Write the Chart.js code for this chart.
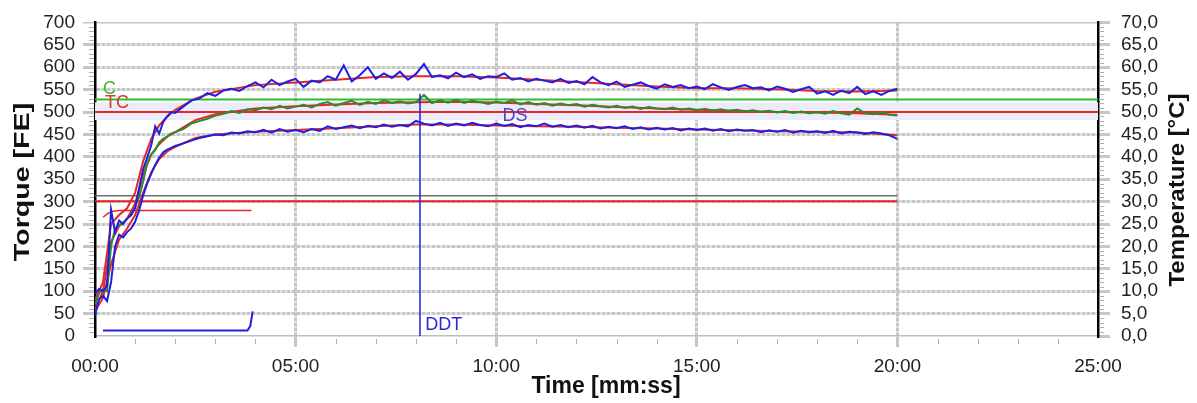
<!DOCTYPE html>
<html>
<head>
<title>Torque / Temperature</title>
<script src="https://cdn.jsdelivr.net/npm/chart.js"></script>
<style>
body { margin:0; background:#fff; }
</style>
</head>
<body>
<canvas id="myChart" width="1197" height="403"></canvas>
<script>
// time in minutes
var times = [0,0.1,0.2,0.3,0.4,0.5,0.6,0.7,0.8,0.9,1,1.1,1.2,1.3,1.4,1.5,1.6,1.7,1.8,1.9,2,
  2.2,2.4,2.6,2.8,3,3.2,3.4,3.6,3.8,4,
  4.2,4.4,4.6,4.8,5,5.2,5.4,5.6,5.8,6,
  6.2,6.4,6.6,6.8,7,7.2,7.4,7.6,7.8,8,
  8.2,8.4,8.6,8.8,9,9.2,9.4,9.6,9.8,10,
  10.2,10.4,10.6,10.8,11,11.2,11.4,11.6,11.8,12,
  12.2,12.4,12.6,12.8,13,13.2,13.4,13.6,13.8,14,
  14.2,14.4,14.6,14.8,15,15.2,15.4,15.6,15.8,16,
  16.2,16.4,16.6,16.8,17,17.2,17.4,17.6,17.8,18,
  18.2,18.4,18.6,18.8,19,19.2,19.4,19.6,19.8,20];

var upperTorque = [95,105,100,112,282,232,258,250,262,270,285,330,372,398,425,468,452,478,490,500,498,
  512,526,530,542,536,548,552,547,558,566,
  555,572,560,568,574,556,570,566,580,572,
  604,568,582,600,574,586,576,590,572,585,
  607,578,582,575,588,578,584,574,580,578,
  586,572,576,568,574,570,566,574,565,569,
  562,578,566,560,568,556,561,566,558,552,
  562,556,560,553,557,551,562,555,549,556,
  560,553,555,548,557,552,545,551,556,541,
  546,538,548,542,556,540,546,538,547,552];

var meanTorque = [70,95,105,100,200,240,248,252,262,270,290,310,345,385,405,415,432,440,445,452,455,
  462,474,480,485,492,496,502,498,506,504,
  510,506,514,508,512,516,510,518,522,514,
  520,525,516,523,518,526,520,524,519,522,
  538,520,526,521,527,520,525,522,518,523,
  520,526,517,522,516,520,514,519,515,518,
  512,516,513,510,514,509,512,507,511,508,
  506,510,505,508,504,507,503,506,502,505,
  501,504,500,503,499,502,498,501,497,500,
  496,502,497,494,508,497,495,499,494,492];

var lowerTorque = [46,82,90,78,120,200,226,220,232,240,255,280,314,340,362,382,398,410,416,420,424,
  430,436,442,446,450,448,454,452,457,455,
  460,454,462,456,460,455,462,458,468,462,
  466,470,464,469,466,472,467,471,468,480,
  474,470,476,469,474,470,476,471,468,474,
  469,473,466,471,468,474,467,471,466,470,
  465,469,463,467,464,468,462,466,461,465,
  461,464,459,463,460,463,458,462,457,461,
  458,460,455,459,456,460,454,458,455,457,
  453,458,452,456,454,451,455,452,448,440];

// smoothed (red) curves
var smoothTimes = [0,0.2,0.4,0.6,0.8,1,1.2,1.4,1.6,1.8,2,2.5,3,4,5,6,7,8,9,10,11,12,13,14,15,16,17,18,19,20];
var upperSmooth = [80,120,250,270,285,320,390,440,470,490,505,530,545,560,566,572,578,580,580,577,572,567,562,557,553,553,551,547,546,548];
var meanSmooth  = [60,100,210,245,262,295,360,405,428,445,455,482,495,508,513,517,520,522,523,521,518,515,511,508,505,503,500,499,497,494];
var lowerSmooth = [55,85,160,215,240,270,320,365,395,412,422,442,450,456,460,464,468,472,472,470,468,467,465,463,461,459,457,456,454,448];

var tempTimes = [0.2,0.3,0.4,0.6,3.9];
var tempValues = [265,272,278,280,280];
var pulseTimes = [0.2,3.8,3.87,3.93];
var pulseValues = [12,12,22,55];

var limitC = 528;
var limitTC = 500;
var tolBand = [482, 522];
var grayLevel = 313;
var redLevel = 301;
var ddtTime = 8.1;
var ddtTop = 541;
var endTime = 20;

var tickFont = { family: 'Liberation Sans, Arial, sans-serif', size: 19 };
var gridGray = '#c6c6c6';

function pts(xs, ys) {
  return xs.map(function (x, i) { return { x: x, y: ys[i] }; });
}
function hline(v, x0, x1) { return [{ x: x0, y: v }, { x: x1, y: v }]; }
function mmss(v) { return (v < 10 ? '0' : '') + v + ':00'; }

function line(data, color, order, width) {
  return { data: data, borderColor: color, borderWidth: width || 2, pointRadius: 0, fill: false, order: order };
}

var datasets = [
  line(pts(times, upperTorque), '#1f1fe0', 1),
  line(pts(times, lowerTorque), '#1f1fe0', 2),
  line(pts(times, meanTorque), '#2e8b2e', 3),
  line(pts(smoothTimes, upperSmooth), '#e8262a', 4),
  line(pts(smoothTimes, meanSmooth), '#e8262a', 5),
  line(pts(smoothTimes, lowerSmooth), '#e8262a', 6),
  line([{ x: ddtTime, y: 0 }, { x: ddtTime, y: ddtTop }], '#1f1fe0', 0, 1.5),
  line(pts(pulseTimes, pulseValues), '#1f1fe0', 7),
  line(pts(tempTimes, tempValues), '#e8262a', 8, 1.5),
  line(hline(limitC, 0, 25), '#2ebd2e', 9),
  line(hline(limitTC, 0, 25), '#e8262a', 10),
  line(hline(grayLevel, 0, endTime), '#6e6e6e', 11, 1.5),
  line(hline(redLevel, 0, endTime), '#e8262a', 12),
  { data: hline(tolBand[1], 0, 25), borderWidth: 0, pointRadius: 0, fill: '+1', backgroundColor: '#ebebf9', order: 20 },
  { data: hline(tolBand[0], 0, 25), borderWidth: 0, pointRadius: 0, fill: false, order: 21 }
];

// labels C / TC / DS / DDT and axis titles
var annot = {
  id: 'annot',
  afterDraw: function (chart) {
    var c = chart.ctx, x = chart.scales.x, y = chart.scales.y;
    c.save();
    c.font = '18px Liberation Sans, Arial, sans-serif';
    c.textAlign = 'left';
    c.textBaseline = 'alphabetic';
    [['C', 0.2, 541, '#33bb33'], ['TC', 0.25, 508, '#dd3333'], ['DS', 10.16, 480, '#4444cc'], ['DDT', 8.23, 13, '#2a2ad0']]
      .forEach(function (l) {
        c.fillStyle = l[3];
        c.fillText(l[0], x.getPixelForValue(l[1]), y.getPixelForValue(l[2]));
      });
    c.fillStyle = '#111';
    c.textAlign = 'center';
    c.textBaseline = 'middle';
    c.font = 'bold 23px Liberation Sans, Arial, sans-serif';
    c.fillText('Time [mm:ss]', 606, 387);
    c.font = 'bold 22px Liberation Sans, Arial, sans-serif';
    c.save(); c.translate(23, 182); c.rotate(-Math.PI / 2); c.scale(1.3, 1);
    c.fillText('Torque [FE]', 0, 0); c.restore();
    c.save(); c.translate(1178, 190); c.rotate(-Math.PI / 2); c.scale(1.09, 1);
    c.fillText('Temperature [°C]', 0, 0); c.restore();
    c.restore();
  },
  beforeDatasetsDraw: function (chart) {
    // minor ticks
    var c = chart.ctx, x = chart.scales.x, y = chart.scales.y, a = chart.chartArea;
    c.save();
    c.strokeStyle = '#b0b0b0';
    c.lineWidth = 1;
    c.beginPath();
    for (var v = 10; v < 700; v += 10) {
      if (v % 50 === 0) continue;
      var py = Math.round(y.getPixelForValue(v)) + 0.5;
      c.moveTo(a.left - 6, py); c.lineTo(a.left - 1, py);
      c.moveTo(a.right + 1, py); c.lineTo(a.right + 6, py);
    }
    for (var m = 1; m < 25; m++) {
      if (m % 5 === 0) continue;
      var px = Math.round(x.getPixelForValue(m)) + 0.5;
      c.moveTo(px, a.bottom + 3); c.lineTo(px, a.bottom + 8);
    }
    c.stroke();
    c.restore();
  }
};

var ctx = document.getElementById('myChart').getContext('2d');
var chart = new Chart(ctx, {
  type: 'line',
  data: { datasets: datasets },
  plugins: [annot],
  options: {
    responsive: false,
    animation: false,
    layout: { padding: { top: 18, left: 0, right: 0, bottom: 0 } },
    plugins: { legend: { display: false }, tooltip: { enabled: false } },
    scales: {
      x: {
        type: 'linear', min: 0, max: 25,
        afterFit: function (s) { s.height = 67; },
        ticks: { stepSize: 5, autoSkip: false, font: tickFont, color: '#222', padding: 8, maxRotation: 0, callback: mmss },
        grid: {
          color: function (c) { return (c.tick && c.tick.value > 0 && c.tick.value < 25) ? gridGray : 'rgba(0,0,0,0)'; },
          lineWidth: 3,
          tickLength: 11
        },
        border: { display: true, color: '#bdbdbd', width: 1.5, dash: [4, 1] }
      },
      y: {
        position: 'left', min: 0, max: 700,
        afterFit: function (s) { s.width = 95; },
        ticks: { stepSize: 50, autoSkip: false, font: tickFont, color: '#222', padding: 8 },
        grid: {
          color: function (c) { return (c.tick && c.tick.value === 0) ? 'rgba(0,0,0,0)' : gridGray; },
          lineWidth: function (c) { return (c.tick && c.tick.value === 700) ? 1.5 : 3; },
          tickLength: 12
        },
        border: {
          color: '#000', width: 2.5,
          dash: function (c) { return (c.tick && c.tick.value === 700) ? [] : [4, 1]; }
        }
      },
      y2: {
        position: 'right', min: 0, max: 70,
        afterFit: function (s) { s.width = 99; },
        ticks: {
          stepSize: 5, autoSkip: false, font: tickFont, color: '#222', padding: 11,
          callback: function (v) { return v.toFixed(1).replace('.', ','); }
        },
        grid: { drawOnChartArea: false, color: gridGray, lineWidth: 3, tickLength: 12 },
        border: { color: '#000', width: 2.5 }
      }
    }
  }
});
</script>
</body>
</html>
